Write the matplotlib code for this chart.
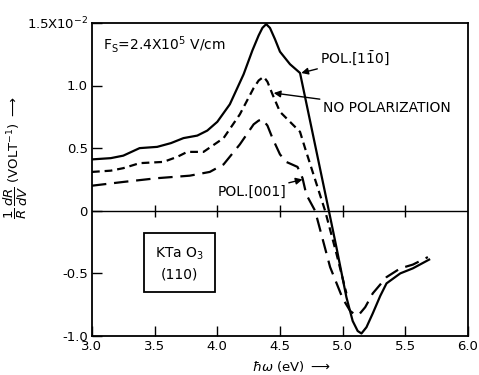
import matplotlib.pyplot as plt

# photon energy (eV) and electroreflectance signal (x 1e-2 / volt)
e_110 = [3.0, 3.15, 3.25, 3.38, 3.52, 3.63, 3.73, 3.84, 3.92, 4.0, 4.10, 4.21, 4.28, 4.33,
         4.36, 4.39, 4.42, 4.46, 4.50, 4.58, 4.66, 4.75, 4.89, 4.95, 5.03, 5.08, 5.12,
         5.15, 5.19, 5.24, 5.30, 5.35, 5.46, 5.56, 5.69]
pol_110 = [0.41, 0.42, 0.44, 0.50, 0.51, 0.54, 0.58, 0.60, 0.64, 0.71, 0.85, 1.09, 1.28, 1.40,
           1.46, 1.49, 1.46, 1.37, 1.27, 1.17, 1.10, 0.67, 0.0, -0.29, -0.69, -0.88, -0.96,
           -0.98, -0.93, -0.82, -0.68, -0.58, -0.50, -0.46, -0.39]

e_nopol = [3.0, 3.15, 3.25, 3.38, 3.57, 3.68, 3.76, 3.89, 4.05, 4.18, 4.29, 4.33, 4.37,
           4.40, 4.44, 4.50, 4.58, 4.66, 4.70, 4.78, 4.86, 4.95, 5.03]
no_pol = [0.31, 0.32, 0.34, 0.38, 0.39, 0.43, 0.47, 0.47, 0.58, 0.77, 0.98, 1.04, 1.07,
          1.03, 0.93, 0.79, 0.71, 0.63, 0.50, 0.25, 0.0, -0.34, -0.66]

e_001 = [3.0, 3.25, 3.52, 3.78, 3.94, 4.05, 4.18, 4.29, 4.33, 4.36, 4.40, 4.44, 4.50,
         4.55, 4.64, 4.68, 4.71, 4.78, 4.90, 5.00, 5.06, 5.10, 5.13, 5.18, 5.24, 5.35,
         5.46, 5.56, 5.68]
pol_001 = [0.20, 0.23, 0.26, 0.28, 0.31, 0.37, 0.53, 0.69, 0.72, 0.73, 0.68, 0.58, 0.45,
           0.39, 0.35, 0.26, 0.13, 0.0, -0.45, -0.70, -0.80, -0.83, -0.83, -0.77, -0.66,
           -0.53, -0.46, -0.43, -0.37]

yticks = [-1.0, -0.5, 0.0, 0.5, 1.0, 1.5]
ylabels = ["-1.0", "-0.5", "0", "0.5", "1.0", "1.5X10$^{-2}$"]
xticks = [3.0, 3.5, 4.0, 4.5, 5.0, 5.5, 6.0]
xlabels = ["3.0", "3.5", "4.0", "4.5", "5.0", "5.5", "6.0"]

fig = plt.figure(figsize=(4.79, 3.75), dpi=100)
ax = fig.add_axes([0.192, 0.104, 0.785, 0.835])

ax.plot(e_110, pol_110, color="k", lw=1.6)
ax.plot(e_nopol, no_pol, color="k", lw=1.6, dashes=(3.5, 2.2))
ax.plot(e_001, pol_001, color="k", lw=1.6, dashes=(6.5, 3.5))

ax.axhline(0, color="k", lw=1.0)
# tick marks crossing the zero line
ax.plot(xticks[1:-1], [0] * 5, ls="none", marker="|", ms=9, mew=1.0, color="k")

ax.set_xlim(3.0, 6.0)
ax.set_ylim(-1.0, 1.5)
ax.set_xticks(xticks)
ax.set_xticklabels(xlabels)
ax.set_yticks(yticks)
ax.set_yticklabels(ylabels)
ax.tick_params(direction="in", length=7, width=1.0, labelsize=9.5, pad=3)
for s in ax.spines.values():
    s.set_linewidth(1.3)

ax.set_xlabel(r"$\hbar\omega$ (eV) $\longrightarrow$", fontsize=9.5)
ax.xaxis.set_label_coords(0.53, -0.075)
ax.set_ylabel(r"$\dfrac{1}{R}\,\dfrac{dR}{dV}$ (VOLT$^{-1}$) $\longrightarrow$",
              fontsize=9.5)
ax.yaxis.set_label_coords(-0.165, 0.57)

ax.text(3.09, 1.33, r"F$_\mathrm{S}$=2.4X10$^5$ V/cm", fontsize=10, va="center")
ax.annotate("POL.[1$\\bar{1}$0]", xy=(4.67, 1.10), xytext=(4.82, 1.21), fontsize=10,
            va="center", arrowprops=dict(arrowstyle="-|>", color="k", lw=1.0,
                                         shrinkA=0, shrinkB=0, mutation_scale=10))
ax.annotate("NO POLARIZATION", xy=(4.45, 0.94), xytext=(4.84, 0.82), fontsize=10,
            va="center", arrowprops=dict(arrowstyle="-|>", color="k", lw=1.0,
                                         shrinkA=0, shrinkB=0, mutation_scale=10))
ax.annotate("POL.[001]", xy=(4.68, 0.25), xytext=(4.0, 0.15), fontsize=10,
            va="center", arrowprops=dict(arrowstyle="-|>", color="k", lw=1.0,
                                         shrinkA=0, shrinkB=0, mutation_scale=10))
ax.text(3.70, -0.42, "KTa O$_3$\n(110)", fontsize=10, ha="center", va="center",
        linespacing=1.5,
        bbox=dict(boxstyle="square,pad=0.8", fc="white", ec="k", lw=1.3))

fig.savefig("out.png", dpi=100)
